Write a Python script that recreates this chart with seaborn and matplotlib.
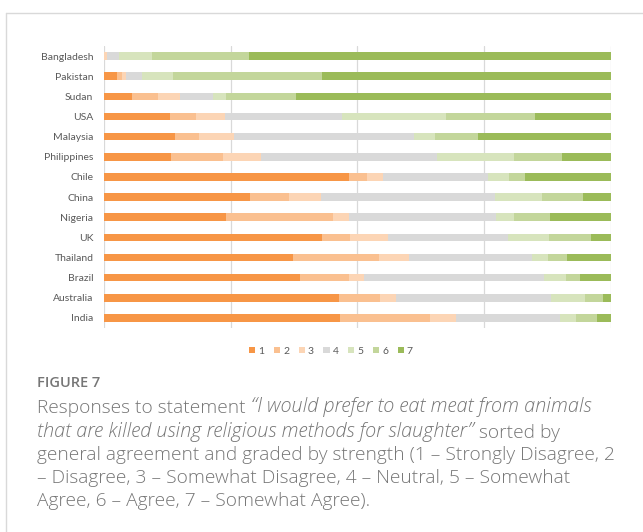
import matplotlib
matplotlib.use("Agg")
import matplotlib.pyplot as plt
from matplotlib.lines import Line2D
from matplotlib.patches import Patch
import seaborn as sns
import pandas as pd
import numpy as np

countries = ["Bangladesh", "Pakistan", "Sudan", "USA", "Malaysia", "Philippines", "Chile",
             "China", "Nigeria", "UK", "Thailand", "Brazil", "Australia", "India"]
levels = ["1", "2", "3", "4", "5", "6", "7"]

# percentage of responses per level
s1 = [0.0, 2.6, 5.5, 13.0, 14.1, 13.3, 48.4, 28.8, 24.1, 43.0, 37.3, 38.8, 46.4, 46.6]
s2 = [0.0, 1.0, 5.3, 5.1, 4.7, 10.3, 3.6, 7.7, 21.1, 5.5, 16.9, 9.6, 8.1, 17.7]
s3 = [0.7, 0.7, 4.2, 5.9, 6.8, 7.5, 3.2, 6.4, 3.2, 7.5, 5.9, 3.0, 3.1, 5.2]
s4 = [2.4, 3.2, 6.5, 23.0, 35.6, 34.7, 20.7, 34.2, 28.9, 23.6, 24.3, 35.5, 30.6, 20.4]
s5 = [6.4, 6.2, 2.7, 20.5, 4.1, 15.2, 4.0, 9.3, 3.6, 8.2, 3.1, 4.3, 6.8, 3.2]
s6 = [19.2, 29.4, 13.8, 17.5, 8.4, 9.4, 3.2, 8.1, 7.1, 8.3, 3.9, 2.7, 3.6, 4.1]
s7 = [71.4, 56.9, 62.1, 15.0, 26.3, 9.7, 17.0, 5.5, 12.0, 3.9, 8.6, 6.2, 1.5, 2.8]

colors = ["#F79646", "#FAC090", "#FCD5B5", "#D9D9D9", "#D7E4BD", "#C3D69B", "#9BBB59"]

vals = np.array([s1, s2, s3, s4, s5, s6, s7], dtype=float)
vals = vals / vals.sum(axis=0) * 100
cum = np.cumsum(vals, axis=0)

sns.set_style("white")
plt.rcParams["font.family"] = ["Lato", "DejaVu Sans"]

fig = plt.figure(figsize=(6.43, 5.32), dpi=100)
ax = fig.add_axes([103.7 / 643, 1 - 328 / 532, (611 - 103.7) / 643, (328 - 46) / 532])

# stacked bars: draw cumulative totals from the top level down
for i in range(len(levels) - 1, -1, -1):
    df = pd.DataFrame({"country": countries, "cum": cum[i]})
    sns.barplot(data=df, x="cum", y="country", color=colors[i], saturation=1,
                width=0.38, linewidth=0, ax=ax, zorder=2)

ax.set_xlim(0, 100)
ax.set_ylim(13.5, -0.5)
ax.set_xticks([0, 25, 50, 75, 100])
ax.set_xticklabels([])
ax.grid(axis="x", color="#D9D9D9", linewidth=0.9)
ax.set_axisbelow(True)
ax.tick_params(axis="both", length=0)
ax.tick_params(axis="y", labelsize=7.5, labelcolor="#595959", pad=7.5)
ax.set_xlabel("")
ax.set_ylabel("")
for sp in ax.spines.values():
    sp.set_visible(False)

handles = [Patch(facecolor=c, edgecolor="none") for c in colors]
fig.legend(handles, levels, loc="center", bbox_to_anchor=(331 / 643, 1 - 351 / 532),
           ncol=7, frameon=False, fontsize=7.5, labelcolor="#595959",
           handlelength=0.6, handleheight=0.6, handletextpad=0.3, columnspacing=0.9)

# frame around the figure panel
fig.add_artist(Line2D([6 / 643, 1], [1 - 13 / 532] * 2, transform=fig.transFigure,
                      color="#D9D9D9", linewidth=1))
fig.add_artist(Line2D([6 / 643] * 2, [0, 1 - 13 / 532], transform=fig.transFigure,
                      color="#D9D9D9", linewidth=1))

# caption
cap_color = "#767676"
cap_font = ["Open Sans", "DejaVu Sans"]
x0 = 37 / 643
fig.text(x0, 1 - 386.7 / 532, "FIGURE 7", fontsize=10.5, fontweight="semibold",
         family=cap_font, color=cap_color, va="baseline")

styles = {"normal": dict(fontsize=13.8, style="normal", fontweight="light"),
          "italic": dict(fontsize=14.3, style="italic", fontweight="light")}
lines = [
    [("Responses to statement", "normal"), ("\u201cI would prefer to eat meat from animals", "italic")],
    [("that are killed using religious methods for slaughter\u201d", "italic"), ("sorted by", "normal")],
    [("general agreement and graded by strength (1 \u2013 Strongly Disagree, 2", "normal")],
    [("\u2013 Disagree, 3 \u2013 Somewhat Disagree, 4 \u2013 Neutral, 5 \u2013 Somewhat", "normal")],
    [("Agree, 6 \u2013 Agree, 7 \u2013 Somewhat Agree).", "normal")],
]
baselines = [413.3, 436.5, 459.7, 483.0, 506.3]
for parts, yb in zip(lines, baselines):
    prev = None
    for text, style in parts:
        if prev is None:
            prev = fig.text(x0, 1 - yb / 532, text, family=cap_font, color=cap_color,
                            va="baseline", **styles[style])
        else:
            prev = ax.annotate(text, xy=(1, 0), xycoords=prev, xytext=(3.6, 0),
                               textcoords="offset points", family=cap_font,
                               color=cap_color, va="bottom", annotation_clip=False,
                               **styles[style])

fig.savefig("out.png", dpi=100)
